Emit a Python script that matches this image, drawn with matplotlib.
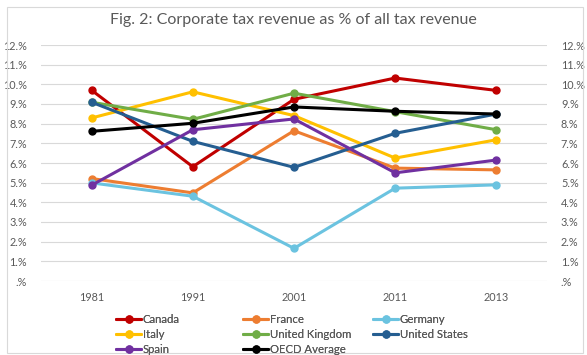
import numpy as np
import matplotlib
matplotlib.use("Agg")
from matplotlib import pyplot as plt
from matplotlib.patches import Rectangle
from matplotlib.ticker import FuncFormatter

plt.rcParams['font.family'] = ['Lato', 'DejaVu Sans']

years = ['1981', '1991', '2001', '2011', '2013']

canada = [9.70, 5.81, 9.24, 10.32, 9.69]
france = [5.21, 4.48, 7.64, 5.74, 5.65]
germany = [4.99, 4.31, 1.66, 4.72, 4.89]
italy = [8.29, 9.62, 8.41, 6.25, 7.18]
uk = [9.09, 8.22, 9.55, 8.61, 7.69]
usa = [9.09, 7.10, 5.78, 7.51, 8.49]
spain = [4.87, 7.69, 8.24, 5.50, 6.15]
oecd = [7.61, 8.02, 8.85, 8.63, 8.49]

series = [
    ('Canada', canada, '#C00000'),
    ('France', france, '#ED7D31'),
    ('Germany', germany, '#6BC3E0'),
    ('Italy', italy, '#FFC000'),
    ('United Kingdom', uk, '#70AD47'),
    ('United States', usa, '#255E91'),
    ('Spain', spain, '#7030A0'),
    ('OECD Average', oecd, '#000000'),
]

grey = '#595959'
fig = plt.figure(figsize=(5.87, 3.55), dpi=100)
ax = fig.add_axes([41/587, 1 - 281/355, 506/587, 236/355])

x = np.arange(len(years))
handles = {}
for name, vals, col in series:
    h, = ax.plot(x, vals, color=col, lw=2.2, marker='o', ms=5, label=name,
                 solid_capstyle='round', zorder=3)
    handles[name] = h

ax.set_xlim(-0.5, 4.5)
ax.set_ylim(0, 12)
ax.set_yticks(np.arange(0, 13, 1))
fmt = FuncFormatter(lambda v, p: ('%d.%%' % v) if v >= 1 else '.%')
ax.yaxis.set_major_formatter(fmt)
ax.set_xticks(x)
ax.set_xticklabels(years)
ax.tick_params(axis='both', length=0, labelsize=7.8, colors=grey)
ax.tick_params(axis='y', which='both', labelright=True, pad=10)
ax.tick_params(axis='x', pad=8)
ax.grid(axis='y', color='#D9D9D9', lw=0.8, zorder=0)
for s in ax.spines.values():
    s.set_visible(False)

fig.text(0.5, 1 - 20/355, 'Fig. 2: Corporate tax revenue as % of all tax revenue',
         ha='center', va='center', fontsize=11.5, color=grey)

# legend: three fixed-width columns like the Excel original
columns = [['Canada', 'Italy', 'Spain'],
           ['France', 'United Kingdom', 'OECD Average'],
           ['Germany', 'United States']]
col_x = [116, 243, 373]
for names, cx in zip(columns, col_x):
    leg = fig.legend([handles[n] for n in names], names, loc='upper left',
                     bbox_to_anchor=(cx/587, 1 - 314/355), frameon=False,
                     fontsize=8.2, handlelength=2.2, handletextpad=0.15,
                     labelspacing=0.35, labelcolor=grey, borderpad=0,
                     borderaxespad=0)
    fig.add_artist(leg)

fig.patches.append(Rectangle((7/587, 2/355), 576/587, 346/355, transform=fig.transFigure,
                             fill=False, edgecolor='#D9D9D9', lw=0.8))

fig.savefig('out.png', dpi=100)
